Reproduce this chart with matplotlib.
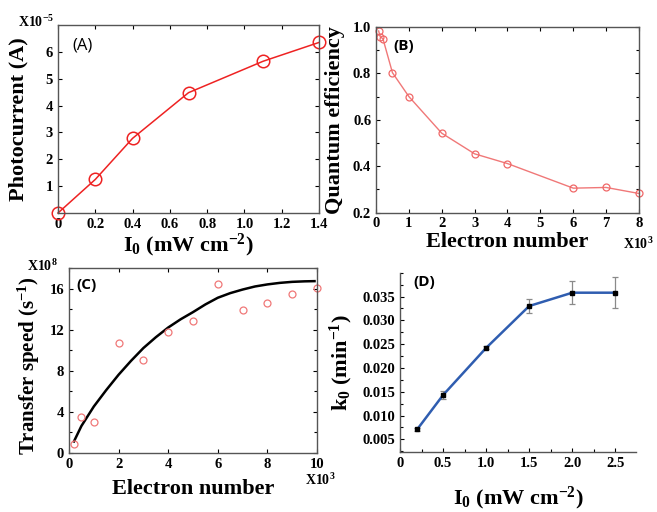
import numpy as np
import matplotlib
matplotlib.use('Agg')
import matplotlib.pyplot as plt
from matplotlib.ticker import MultipleLocator

plt.rcParams['font.family'] = ['Liberation Serif', 'DejaVu Serif']
plt.rcParams['font.weight'] = 'bold'
plt.rcParams['axes.labelweight'] = 'bold'
plt.rcParams['mathtext.fontset'] = 'custom'
plt.rcParams['mathtext.rm'] = 'Liberation Serif:bold'
plt.rcParams['mathtext.bf'] = 'Liberation Serif:bold'
plt.rcParams['mathtext.default'] = 'bf'

# (A) photocurrent vs light intensity
a_x = [0, 0.2, 0.4, 0.7, 1.1, 1.4]
a_y = [0.0, 1.25, 2.78, 4.48, 5.65, 6.35]
a_xticks = [0, 0.2, 0.4, 0.6, 0.8, 1.0, 1.2, 1.4]
a_xticklabels = ['0', '0.2', '0.4', '0.6', '0.8', '1.0', '1.2', '1.4']
a_yticks = [1, 2, 3, 4, 5, 6]

# (B) quantum efficiency vs electron number (x10^3)
b_x = [0.08, 0.13, 0.21, 0.5, 1, 2, 3, 4, 6, 7, 8]
b_y = [0.983, 0.957, 0.95, 0.803, 0.70, 0.542, 0.453, 0.411, 0.305, 0.308, 0.282]
b_yticks = [0.2, 0.4, 0.6, 0.8, 1.0]
b_yticklabels = ['0.2', '0.4', '0.6', '0.8', '1.0']

# (C) transfer speed (x10^8) vs electron number (x10^3)
c_x = [0.2, 0.5, 1, 2, 3, 4, 5, 6, 7, 8, 9, 10]
c_y = [0.88, 3.44, 3.02, 10.65, 9.03, 11.72, 12.82, 16.45, 13.9, 14.6, 15.5, 16.07]
c_fit_x = [0.2, 0.5, 1.0, 1.5, 2.0, 2.5, 3.0, 3.5, 4.0, 4.5, 5.0, 5.5, 6.0,
           6.5, 7.0, 7.5, 8.0, 8.5, 9.0, 9.5, 9.9]
c_fit_y = [1.1, 2.6, 4.5, 6.1, 7.6, 8.95, 10.2, 11.25, 12.2, 13.0, 13.7, 14.45,
           15.1, 15.55, 15.9, 16.2, 16.4, 16.55, 16.65, 16.7, 16.72]

# (D) k0 vs light intensity
d_x = [0.2, 0.5, 1.0, 1.5, 2.0, 2.5]
d_y = [0.0071, 0.0143, 0.0242, 0.0330, 0.0358, 0.0358]
d_err = [0.0003, 0.0008, 0.0003, 0.0014, 0.0024, 0.0033]
d_xticks = [0, 0.5, 1.0, 1.5, 2.0, 2.5]
d_xticklabels = ['0', '0.5', '1.0', '1.5', '2.0', '2.5']
d_yticks = [0.005, 0.010, 0.015, 0.020, 0.025, 0.030, 0.035]
d_yticklabels = ['0.005', '0.010', '0.015', '0.020', '0.025', '0.030', '0.035']

W, H = 657, 512
fig = plt.figure(figsize=(W / 100, H / 100), dpi=100)


def box(l, r, t, b):
    return [l / W, 1 - b / H, (r - l) / W, (b - t) / H]


axA = fig.add_axes(box(58, 319, 25, 213))
axB = fig.add_axes(box(376, 639, 27, 212.5))
axC = fig.add_axes(box(69, 317, 268, 452.7))
axD = fig.add_axes(box(400, 636, 272.7, 451.7))

lab_fs = 16
tick_fs = 10.5
panel_font = ['Open Sans', 'DejaVu Sans']

for ax in (axA, axB, axC, axD):
    ax.tick_params(direction='in', labelsize=tick_fs, length=3, width=0.8)
    ax.tick_params(which='minor', direction='in', length=2, width=0.8)
    for s in ax.spines.values():
        s.set_color('#555555')
        s.set_linewidth(1.0)
for ax in (axA, axB, axC):
    ax.tick_params(which='both', top=True, right=True)

# ---- A
axA.plot(a_x, a_y, color='#ee2222', lw=1.1, marker='o', ms=9,
         mfc='none', mec='#ee2222', mew=1.1, clip_on=False)
axA.set_xlim(0, 1.4)
axA.set_ylim(0, 7)
axA.set_xticks(a_xticks)
axA.set_xticklabels(a_xticklabels)
axA.set_yticks(a_yticks)
axA.set_ylabel('Photocurrent (A)', fontsize=lab_fs)
axA.set_xlabel('I$_0$ (mW cm$^{-2}$)', fontsize=lab_fs)
axA.yaxis.set_label_coords(-0.115, 0.5)
axA.xaxis.set_label_coords(0.5, -0.1)
axA.text(0.055, 0.89, '(A)', transform=axA.transAxes, family=panel_font,
         fontweight='normal', fontsize=12, va='center')
axA.text(-0.015, 0.975, 'X10$^{-5}$', transform=axA.transAxes, fontsize=10,
         ha='right', va='bottom')

# ---- B
axB.plot(b_x, b_y, color='#f07878', lw=1.0, marker='o', ms=5,
         mfc='none', mec='#f06868', mew=0.9, clip_on=False)
axB.set_xlim(0, 8)
axB.set_ylim(0.2, 1.0)
axB.set_yticks(b_yticks)
axB.set_yticklabels(b_yticklabels)
axB.yaxis.set_minor_locator(MultipleLocator(0.1))
axB.xaxis.set_major_locator(MultipleLocator(1))
axB.set_ylabel('Quantum efficiency', fontsize=lab_fs)
axB.set_xlabel('Electron number', fontsize=lab_fs)
axB.yaxis.set_label_coords(-0.117, 0.5)
axB.xaxis.set_label_coords(0.5, -0.105)
axB.text(0.066, 0.9, '(B)', transform=axB.transAxes, family=panel_font,
         fontweight='bold', fontsize=11, va='center')
axB.text(0.94, -0.17, 'X10$^{3}$', transform=axB.transAxes, fontsize=10,
         ha='left', va='center')

# ---- C
axC.plot(c_fit_x, c_fit_y, color='black', lw=1.8)
axC.plot(c_x, c_y, ls='none', marker='o', ms=5, mfc='none',
         mec='#f07878', mew=0.9, clip_on=False)
axC.set_xlim(0, 10)
axC.set_ylim(0, 18)
axC.yaxis.set_major_locator(MultipleLocator(4))
axC.yaxis.set_minor_locator(MultipleLocator(2))
axC.xaxis.set_major_locator(MultipleLocator(2))
axC.set_ylabel('Transfer speed (s$^{-1}$)', fontsize=15)
axC.set_xlabel('Electron number', fontsize=lab_fs)
axC.yaxis.set_label_coords(-0.11, 0.47)
axC.xaxis.set_label_coords(0.5, -0.145)
axC.text(0.03, 0.91, '(C)', transform=axC.transAxes, family=panel_font,
         fontweight='bold', fontsize=11, va='center')
axC.text(-0.045, 1.01, 'X10$^{8}$', transform=axC.transAxes, fontsize=10,
         ha='right', va='center')
axC.text(0.95, -0.15, 'X10$^{3}$', transform=axC.transAxes, fontsize=10,
         ha='left', va='center')

# ---- D
axD.errorbar(d_x, d_y, yerr=d_err, color='#2f5db0', lw=1.8, marker='s',
             ms=3, mfc='black', mec='black', ecolor='#8a8a8a', elinewidth=0.9,
             capsize=2.5, capthick=0.9)
axD.set_xlim(0, 2.74)
axD.set_ylim(0.0024, 0.040)
axD.set_xticks(d_xticks)
axD.set_xticklabels(d_xticklabels)
axD.set_yticks(d_yticks)
axD.set_yticklabels(d_yticklabels)
axD.xaxis.set_minor_locator(MultipleLocator(0.25))
axD.yaxis.set_minor_locator(MultipleLocator(0.0025))
axD.spines['top'].set_visible(False)
axD.spines['right'].set_visible(False)
axD.set_ylabel('k$_0$ (min$^{-1}$)', fontsize=lab_fs)
axD.set_xlabel('I$_0$ (mW cm$^{-2}$)', fontsize=lab_fs)
axD.yaxis.set_label_coords(-0.19, 0.5)
axD.xaxis.set_label_coords(0.5, -0.185)
axD.text(0.055, 0.95, '(D)', transform=axD.transAxes, family=panel_font,
         fontweight='bold', fontsize=11, va='center')

for ax in (axA, axB, axC, axD):
    for lbl in ax.get_xticklabels() + ax.get_yticklabels():
        lbl.set_fontweight('bold')

fig.savefig('out.png', dpi=100)
